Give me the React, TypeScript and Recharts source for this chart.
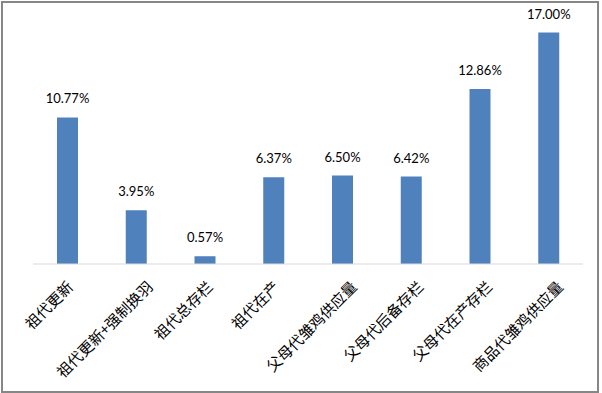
import { BarChart, Bar, XAxis, YAxis, LabelList } from 'recharts';

const categories = [
  '祖代更新',
  '祖代更新+强制换羽',
  '祖代总存栏',
  '祖代在产',
  '父母代雏鸡供应量',
  '父母代后备存栏',
  '父母代在产存栏',
  '商品代雏鸡供应量',
];

const changePct = [10.77, 3.95, 0.57, 6.37, 6.5, 6.42, 12.86, 17.0];

const data = categories.map((name, i) => ({ name, value: changePct[i] }));

const CJK_FONT = '"Noto Sans CJK SC", "Noto Sans", sans-serif';

// rotated category label, end of text sits just right of the tick
const AngledTick = (props: any) => {
  const { x, y, payload } = props;
  const label: string = payload.value;
  const ax = x + 2.2 * label.length - 2;
  const ay = y + 24;
  return (
    <text
      x={ax}
      y={ay}
      transform={`rotate(-45, ${ax}, ${ay})`}
      textAnchor="end"
      fontSize={15}
      fontFamily={CJK_FONT}
      fill="#000000"
    >
      {label}
    </text>
  );
};

export default function App() {
  return (
    <div style={{ position: 'absolute', left: 0, top: 0, width: 602, height: 393, background: '#fff' }}>
      <BarChart
        width={602}
        height={393}
        data={data}
        margin={{ top: 19, right: 19, left: 33, bottom: 0 }}
      >
        <YAxis hide domain={[0, 18]} />
        <XAxis
          dataKey="name"
          interval={0}
          height={129}
          tickLine={false}
          tickSize={0}
          tickMargin={0}
          axisLine={{ stroke: '#d9d9d9', strokeWidth: 1 }}
          tick={<AngledTick />}
        />
        <Bar dataKey="value" fill="#4f81bd" barSize={21} isAnimationActive={false}>
          <LabelList
            dataKey="value"
            position="top"
            offset={14}
            formatter={(v: any) => `${Number(v).toFixed(2)}%`}
            style={{ fontSize: 13, fontFamily: 'Lato, sans-serif', fill: '#000000' }}
          />
        </Bar>
      </BarChart>
      <div
        style={{
          position: 'absolute',
          left: 1,
          top: 1,
          width: 598,
          height: 392,
          boxSizing: 'border-box',
          border: '2px solid #868686',
          pointerEvents: 'none',
        }}
      />
    </div>
  );
}
